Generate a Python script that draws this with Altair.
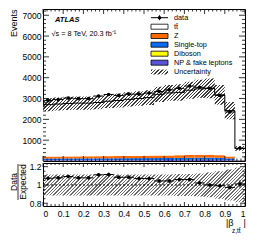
import math
import altair as alt
import pandas as pd

FONT = "Liberation Sans"
W, HM, HR = 202, 152, 43
YM_MAX = 7300
YR_DOM = [0.77, 1.24]

# ---- data ----
bin_lo = [0.00, 0.05, 0.10, 0.15, 0.20, 0.25, 0.30, 0.35, 0.40, 0.45,
          0.50, 0.55, 0.60, 0.65, 0.70, 0.75, 0.80, 0.85, 0.90, 0.95]
bin_hi = [0.05, 0.10, 0.15, 0.20, 0.25, 0.30, 0.35, 0.40, 0.45, 0.50,
          0.55, 0.60, 0.65, 0.70, 0.75, 0.80, 0.85, 0.90, 0.95, 1.00]
bin_mid = [0.025, 0.075, 0.125, 0.175, 0.225, 0.275, 0.325, 0.375, 0.425, 0.475,
           0.525, 0.575, 0.625, 0.675, 0.725, 0.775, 0.825, 0.875, 0.925, 0.975]
data_vals = [2900, 2950, 3020, 2995, 2995, 3120, 3195, 3150, 3210, 3210,
             3260, 3340, 3415, 3490, 3600, 3540, 3490, 3150, 2355, 610]
data_err = [54, 54, 55, 55, 55, 56, 57, 56, 57, 57,
            57, 58, 58, 59, 60, 59, 59, 56, 49, 25]
expected = [2705, 2735, 2765, 2780, 2780, 2810, 2870, 2905, 2960, 3000,
            3045, 3200, 3270, 3295, 3400, 3465, 3490, 3175, 2420, 605]
np_fake = [38, 38, 39, 39, 40, 40, 41, 41, 42, 42, 43, 43, 44, 45, 46, 47, 47, 45, 38, 12]
diboson = [6, 6, 6, 6, 6, 6, 6, 7, 7, 7, 7, 7, 7, 7, 8, 8, 8, 7, 5, 1]
single_top = [75, 76, 77, 78, 79, 80, 82, 84, 86, 88, 90, 92, 95, 98, 101, 104, 106, 100, 80, 20]
z_jets = [95, 96, 98, 100, 102, 104, 106, 108, 110, 113, 116, 120, 124, 128, 132, 136, 138, 128, 95, 22]
unc_rel = [0.115, 0.115, 0.115, 0.115, 0.115, 0.115, 0.115, 0.115, 0.115, 0.115,
           0.115, 0.115, 0.115, 0.12, 0.12, 0.125, 0.135, 0.15, 0.17, 0.19]
ratio_vals = [1.073, 1.078, 1.092, 1.078, 1.078, 1.111, 1.114, 1.084, 1.084, 1.070,
              1.070, 1.044, 1.044, 1.059, 1.059, 1.022, 1.000, 0.992, 0.973, 1.011]
ratio_err = [0.02, 0.02, 0.02, 0.02, 0.02, 0.02, 0.02, 0.02, 0.02, 0.02,
             0.02, 0.02, 0.02, 0.02, 0.02, 0.02, 0.02, 0.02, 0.021, 0.04]

components = ["NP & fake leptons", "Diboson", "Single-top", "Z", "tt\u0304"]
comp_colors = ["#5a55d8", "#ffff00", "#0a6cf5", "#ff6a00", "#ffffff"]

main_y_major = [1000, 2000, 3000, 4000, 5000, 6000, 7000]
x_major = [0, 0.1, 0.2, 0.3, 0.4, 0.5, 0.6, 0.7, 0.8, 0.9, 1.0]
ratio_y_major = [0.8, 1.0, 1.2]
ratio_y_minor = [0.85, 0.9, 0.95, 1.05, 1.1, 1.15]

# ---- tables ----
df = pd.DataFrame({"lo": bin_lo, "hi": bin_hi, "mid": bin_mid, "data": data_vals,
                   "err": data_err, "exp": expected, "u": unc_rel,
                   "ratio": ratio_vals, "rerr": ratio_err})
df["d_lo"] = df["data"] - df["err"]
df["d_hi"] = df["data"] + df["err"]
df["r_lo"] = df["ratio"] - df["rerr"]
df["r_hi"] = df["ratio"] + df["rerr"]

# step-shaped uncertainty bands (edges + closing point)
band = pd.DataFrame({"x": bin_lo + [bin_hi[-1]],
                     "exp": expected + [expected[-1]],
                     "u": unc_rel + [unc_rel[-1]]})
band["b_lo"] = band["exp"] * (1 - band["u"])
band["b_hi"] = band["exp"] * (1 + band["u"])
band["rb_lo"] = 1 - band["u"]
band["rb_hi"] = 1 + band["u"]

bg = [np_fake, diboson, single_top, z_jets]
ttbar = [e - sum(b[i] for b in bg) for i, e in enumerate(expected)]
comp_vals = bg + [ttbar]
rows = []
for i in range(len(bin_lo)):
    base = 0
    for name, vals in zip(components, comp_vals):
        rows.append({"lo": bin_lo[i], "hi": bin_hi[i], "comp": name,
                     "y0": base, "y1": base + vals[i]})
        base += vals[i]
stack = pd.DataFrame(rows)

step = pd.DataFrame({"x": bin_lo + [bin_hi[-1]], "y": expected + [expected[-1]]})

main_y_minor = [v for v in range(200, 7300, 200) if v % 1000 != 0]
x_minor = [round(i * 0.02, 2) for i in range(1, 50) if i % 5 != 0]
one = pd.DataFrame({"a": [0]})


def hatch(w, h, period=2.4, frac=0.42, col="#3a3a3a"):
    """Diagonal '/' hatching as a striped linear gradient over a w x h box."""
    k = (w + h) / (w * w + h * h)
    n = max(1, int(round((w + h) / (math.sqrt(2) * period))))
    clear = "rgba(255,255,255,0)"
    stops = []
    for i in range(n):
        o0, o1, o2 = i / n, (i + frac) / n, (i + 1) / n
        stops += [alt.GradientStop(offset=o0, color=col), alt.GradientStop(offset=o1, color=col),
                  alt.GradientStop(offset=o1, color=clear), alt.GradientStop(offset=o2, color=clear)]
    return alt.LinearGradient(gradient="linear", stops=stops, x1=0, y1=0, x2=w * k, y2=h * k)


main_band_h = (band["b_hi"].max() - band["b_lo"].min()) / YM_MAX * HM
ratio_band_h = (band["rb_hi"].max() - band["rb_lo"].min()) / (YR_DOM[1] - YR_DOM[0]) * HR

XS = alt.Scale(domain=[0, 1], nice=False, zero=False)
YM = alt.Scale(domain=[0, YM_MAX], nice=False, zero=False)
YR = alt.Scale(domain=YR_DOM, nice=False, zero=False)

main_axis = alt.Axis(values=main_y_major, format="d", title="Events", titleAnchor="end",
                     titleFontSize=9, titlePadding=4, labelPadding=2)
ratio_axis = alt.Axis(values=ratio_y_major, format="~g", title=None, labelPadding=2)
ratio_xaxis = alt.Axis(values=x_major, format="~g", title=None, labelPadding=3)


def ym(f):
    return alt.Y(f, scale=YM, axis=main_axis)


def yr(f):
    return alt.Y(f, scale=YR, axis=ratio_axis)


def xm(f):
    return alt.X(f, scale=XS, axis=None)


def xr(f):
    return alt.X(f, scale=XS, axis=ratio_xaxis)


def yticks(vals, yenc, length, width):
    d = pd.DataFrame({"v": vals})
    left = alt.Chart(d).mark_rule(color="black", strokeWidth=0.8).encode(
        x=alt.value(0), x2=alt.value(length), y=yenc("v:Q"))
    right = alt.Chart(d).mark_rule(color="black", strokeWidth=0.8).encode(
        x=alt.value(width - length), x2=alt.value(width), y=yenc("v:Q"))
    return [left, right]


def xticks(vals, xenc, length, height):
    d = pd.DataFrame({"v": vals})
    return [alt.Chart(d).mark_rule(color="black", strokeWidth=0.8).encode(
                y=alt.value(0), y2=alt.value(length), x=xenc("v:Q")),
            alt.Chart(d).mark_rule(color="black", strokeWidth=0.8).encode(
                y=alt.value(height - length), y2=alt.value(height), x=xenc("v:Q"))]


# ---- main panel ----
stack_l = alt.Chart(stack).mark_rect(strokeWidth=0).encode(
    x=xm("lo:Q"), x2="hi:Q", y=ym("y0:Q"), y2="y1:Q",
    color=alt.Color("comp:N", scale=alt.Scale(domain=components, range=comp_colors), legend=None))
band_l = alt.Chart(band).mark_area(interpolate="step-after", color=hatch(W, main_band_h)).encode(
    x=xm("x:Q"), y=ym("b_lo:Q"), y2="b_hi:Q")
line_l = alt.Chart(step).mark_line(interpolate="step-after", color="black", strokeWidth=1).encode(
    x=xm("x:Q"), y=ym("y:Q"))
dh_l = alt.Chart(df).mark_rule(color="black", strokeWidth=1).encode(
    x=xm("lo:Q"), x2="hi:Q", y=ym("data:Q"))
dv_l = alt.Chart(df).mark_rule(color="black", strokeWidth=1).encode(
    x=xm("mid:Q"), y=ym("d_lo:Q"), y2="d_hi:Q")
dp_l = alt.Chart(df).mark_point(filled=True, color="black", size=13, opacity=1).encode(
    x=xm("mid:Q"), y=ym("data:Q"))

main_layers = [stack_l, band_l, line_l, dh_l, dv_l, dp_l]
main_layers += yticks(main_y_major, ym, 6, W) + yticks(main_y_minor, ym, 3, W)
main_layers += xticks(x_major, xm, 5, HM) + xticks(x_minor, xm, 2.5, HM)

main_layers.append(alt.Chart(one).mark_text(font=FONT, fontSize=7.5, fontWeight="bold",
                                             fontStyle="italic", align="left", baseline="middle").encode(
    x=alt.value(12), y=alt.value(10.5), text=alt.value("ATLAS")))
main_layers.append(alt.Chart(one).mark_text(font=FONT, fontSize=7.3, align="left", baseline="middle").encode(
    x=alt.value(8.5), y=alt.value(24.5), text=alt.value("\u221as = 8 TeV, 20.3 fb\u207b\u00b9")))

# legend
leg_x0, leg_x1, leg_tx = 108, 125, 131
leg_rows = [8.7, 17.7, 27.0, 35.7, 44.7, 53.7, 63.0]
leg_labels = ["data", "tt\u0304", "Z", "Single-top", "Diboson", "NP & fake leptons", "Uncertainty"]
box_colors = {"tt\u0304": "#ffffff", "Z": "#ff6a00", "Single-top": "#0a6cf5",
              "Diboson": "#ffff00", "NP & fake leptons": "#5a55d8"}
for lab, ry in zip(leg_labels, leg_rows):
    main_layers.append(alt.Chart(one).mark_text(font=FONT, fontSize=7.3, align="left",
                                                 baseline="middle").encode(
        x=alt.value(leg_tx), y=alt.value(ry), text=alt.value(lab)))
    if lab == "data":
        main_layers.append(alt.Chart(one).mark_rule(color="black", strokeWidth=1).encode(
            x=alt.value(leg_x0), x2=alt.value(leg_x1), y=alt.value(ry)))
        main_layers.append(alt.Chart(one).mark_rule(color="black", strokeWidth=1).encode(
            x=alt.value((leg_x0 + leg_x1) / 2), y=alt.value(ry - 2.5), y2=alt.value(ry + 2.5)))
        main_layers.append(alt.Chart(one).mark_point(filled=True, color="black", size=13, opacity=1).encode(
            x=alt.value((leg_x0 + leg_x1) / 2), y=alt.value(ry)))
    elif lab == "Uncertainty":
        main_layers.append(alt.Chart(one).mark_rect(color=hatch(leg_x1 - leg_x0, 5)).encode(
            x=alt.value(leg_x0), x2=alt.value(leg_x1), y=alt.value(ry - 2.5), y2=alt.value(ry + 2.5)))
    else:
        main_layers.append(alt.Chart(one).mark_rect(color=box_colors[lab], stroke="black",
                                                     strokeWidth=0.8).encode(
            x=alt.value(leg_x0), x2=alt.value(leg_x1), y=alt.value(ry - 2.5), y2=alt.value(ry + 2.5)))

main = alt.layer(*main_layers).properties(width=W, height=HM)

# ---- ratio panel ----
rband = alt.Chart(band).mark_area(interpolate="step-after", color=hatch(W, ratio_band_h, col="#6a6a6a")).encode(
    x=xr("x:Q"), y=yr("rb_lo:Q"), y2="rb_hi:Q")
runity = alt.Chart(pd.DataFrame({"v": [1.0]})).mark_rule(color="black", strokeWidth=1,
                                                         strokeDash=[2, 2]).encode(y=yr("v:Q"))
rh = alt.Chart(df).mark_rule(color="black", strokeWidth=1).encode(
    x=xr("lo:Q"), x2="hi:Q", y=yr("ratio:Q"))
rv = alt.Chart(df).mark_rule(color="black", strokeWidth=1).encode(
    x=xr("mid:Q"), y=yr("r_lo:Q"), y2="r_hi:Q")
rp = alt.Chart(df).mark_point(filled=True, color="black", size=13, opacity=1).encode(
    x=xr("mid:Q"), y=yr("ratio:Q"))

ratio_layers = [rband, runity, rh, rv, rp]
ratio_layers += yticks(ratio_y_major, yr, 5, W) + yticks(ratio_y_minor, yr, 2.5, W)
ratio_layers += xticks(x_major, xr, 4, HR) + xticks(x_minor, xr, 2, HR)

ratio_layers.append(alt.Chart(one).mark_text(font=FONT, fontSize=8.5, angle=270, align="center",
                                              baseline="middle").encode(
    x=alt.value(-29), y=alt.value(19), text=alt.value("Data")))
ratio_layers.append(alt.Chart(one).mark_rule(color="black", strokeWidth=0.8).encode(
    x=alt.value(-25), y=alt.value(1), y2=alt.value(37)))
ratio_layers.append(alt.Chart(one).mark_text(font=FONT, fontSize=8.5, angle=270, align="center",
                                              baseline="middle").encode(
    x=alt.value(-20), y=alt.value(19), text=alt.value("Expected")))
ratio_layers.append(alt.Chart(one).mark_text(font=FONT, fontSize=9, align="left", baseline="middle").encode(
    x=alt.value(183), y=alt.value(60), text=alt.value("|\u03b2")))
ratio_layers.append(alt.Chart(one).mark_text(font=FONT, fontSize=6.5, align="left", baseline="middle").encode(
    x=alt.value(189), y=alt.value(68), text=alt.value("z,tt\u0304")))
ratio_layers.append(alt.Chart(one).mark_text(font=FONT, fontSize=9, align="left", baseline="middle").encode(
    x=alt.value(200.5), y=alt.value(60), text=alt.value("|")))

ratio = alt.layer(*ratio_layers).properties(width=W, height=HR)

chart = alt.vconcat(main, ratio, spacing=0).properties(padding=0).configure_view(
    stroke="black", strokeWidth=1
).configure_axis(
    ticks=False, domain=False, grid=False, labelFont=FONT, labelFontSize=8.5,
    labelColor="black", titleFont=FONT, titleColor="black", titleFontWeight="normal"
)

chart.save("out.html", embed_options={"renderer": "svg", "actions": False})
